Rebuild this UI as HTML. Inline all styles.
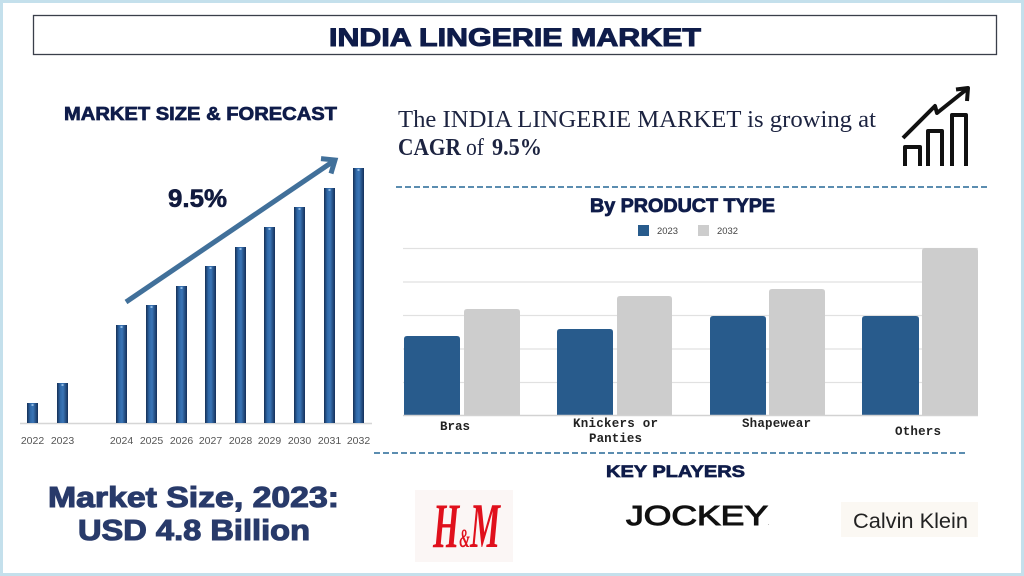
<!DOCTYPE html>
<html>
<head>
<meta charset="utf-8">
<style>
html,body{margin:0;padding:0;background:#fff;}
svg{display:block;}
</style>
</head>
<body>
<svg width="1024" height="576" viewBox="0 0 1024 576" xmlns="http://www.w3.org/2000/svg">
<defs>
<linearGradient id="bg" x1="0" y1="0" x2="1" y2="0">
<stop offset="0" stop-color="#152f55"/>
<stop offset="0.3" stop-color="#2f68a8"/>
<stop offset="0.55" stop-color="#3a75b6"/>
<stop offset="1" stop-color="#14305a"/>
</linearGradient>
</defs>
<rect x="1.5" y="1.5" width="1021" height="573" fill="#ffffff" stroke="#c4e0ec" stroke-width="3"/>

<!-- Title -->
<rect x="33.5" y="15.5" width="963" height="39" fill="none" stroke="#3a3f4a" stroke-width="1.3"/>
<text x="329" y="46" font-family="Liberation Sans, sans-serif" font-weight="bold" font-size="25" fill="#0f1c4a" stroke="#0f1c4a" stroke-width="1" textLength="372" lengthAdjust="spacingAndGlyphs">INDIA LINGERIE MARKET</text>

<!-- Left section -->
<text x="64" y="120" font-family="Liberation Sans, sans-serif" font-weight="bold" font-size="18" fill="#0f1c4a" stroke="#0f1c4a" stroke-width="0.7" textLength="273" lengthAdjust="spacingAndGlyphs">MARKET SIZE &amp; FORECAST</text>
<text x="168" y="207" font-family="Liberation Sans, sans-serif" font-weight="bold" font-size="25" fill="#111a3e" stroke="#111a3e" stroke-width="0.6" textLength="59" lengthAdjust="spacingAndGlyphs">9.5%</text>

<line x1="20" y1="423.5" x2="372" y2="423.5" stroke="#d6d6d6" stroke-width="1.5"/>
<g fill="url(#bg)">
<rect x="27" y="403" width="11" height="20"/>
<rect x="57" y="383" width="11" height="40"/>
<rect x="116" y="325" width="11" height="98"/>
<rect x="146" y="305" width="11" height="118"/>
<rect x="176" y="286" width="11" height="137"/>
<rect x="205" y="266" width="11" height="157"/>
<rect x="235" y="247" width="11" height="176"/>
<rect x="264" y="227" width="11" height="196"/>
<rect x="294" y="207" width="11" height="216"/>
<rect x="324" y="188" width="11" height="235"/>
<rect x="353" y="168" width="11" height="255"/>
</g>
<g fill="#8fb9e2">
<rect x="31.5" y="404" width="2" height="2"/>
<rect x="61.5" y="384" width="2" height="2"/>
<rect x="120.5" y="326" width="2" height="2"/>
<rect x="150.5" y="306" width="2" height="2"/>
<rect x="180.5" y="287" width="2" height="2"/>
<rect x="209.5" y="267" width="2" height="2"/>
<rect x="239.5" y="248" width="2" height="2"/>
<rect x="268.5" y="228" width="2" height="2"/>
<rect x="298.5" y="208" width="2" height="2"/>
<rect x="328.5" y="189" width="2" height="2"/>
<rect x="357.5" y="169" width="2" height="2"/>
</g>
<g font-family="Liberation Sans, sans-serif" font-size="10.5" fill="#555" text-anchor="middle">
<text x="32.5" y="444">2022</text>
<text x="62.5" y="444">2023</text>
<text x="121.5" y="444">2024</text>
<text x="151.5" y="444">2025</text>
<text x="181.5" y="444">2026</text>
<text x="210.5" y="444">2027</text>
<text x="240.5" y="444">2028</text>
<text x="269.5" y="444">2029</text>
<text x="299.5" y="444">2030</text>
<text x="329.5" y="444">2031</text>
<text x="358.5" y="444">2032</text>
</g>
<line x1="126" y1="302" x2="333" y2="161.5" stroke="#41709a" stroke-width="5"/>
<polyline points="321,158.6 335,160 331,173.5" fill="none" stroke="#41709a" stroke-width="5" stroke-linejoin="miter"/>

<text x="48" y="507" font-family="Liberation Sans, sans-serif" font-weight="bold" font-size="29" fill="#283a6a" stroke="#283a6a" stroke-width="1.1" textLength="291" lengthAdjust="spacingAndGlyphs">Market Size, 2023:</text>
<text x="78" y="540" font-family="Liberation Sans, sans-serif" font-weight="bold" font-size="29" fill="#283a6a" stroke="#283a6a" stroke-width="1.1" textLength="232" lengthAdjust="spacingAndGlyphs">USD 4.8 Billion</text>

<!-- Right top text -->
<text x="398" y="127" font-family="Liberation Serif, serif" font-size="24" fill="#1c2340" textLength="478" lengthAdjust="spacingAndGlyphs">The INDIA LINGERIE MARKET is growing at</text>
<text x="398" y="155" font-family="Liberation Serif, serif" font-weight="bold" font-size="24" fill="#1c2340" textLength="63" lengthAdjust="spacingAndGlyphs">CAGR</text>
<text x="466" y="155" font-family="Liberation Serif, serif" font-size="24" fill="#1c2340" textLength="18" lengthAdjust="spacingAndGlyphs">of</text>
<text x="492" y="155" font-family="Liberation Serif, serif" font-weight="bold" font-size="24" fill="#1c2340" textLength="50" lengthAdjust="spacingAndGlyphs">9.5%</text>

<!-- growth icon -->
<g fill="none" stroke="#111" stroke-width="4" stroke-linejoin="round">
<path d="M905,166 V147 H920 V166"/>
<path d="M928,166 V131 H942 V166"/>
<path d="M952,166 V115 H966 V166"/>
<polyline points="903,138 935,106 937,113 967,89"/>
<polyline points="956,89.5 968,88 967,101"/>
</g>

<!-- dashed lines -->
<line x1="396" y1="187" x2="988" y2="187" stroke="#5b8db0" stroke-width="2" stroke-dasharray="6,3"/>
<line x1="374" y1="453" x2="965" y2="453" stroke="#5b8db0" stroke-width="2" stroke-dasharray="6,3"/>

<!-- By product type -->
<text x="590" y="212" font-family="Liberation Sans, sans-serif" font-weight="bold" font-size="19" fill="#0f1c4a" stroke="#0f1c4a" stroke-width="0.8" textLength="185" lengthAdjust="spacingAndGlyphs">By PRODUCT TYPE</text>
<rect x="638" y="225" width="11" height="11" fill="#285b8c"/>
<text x="657" y="234" font-family="Liberation Sans, sans-serif" font-size="9.5" fill="#444" textLength="21" lengthAdjust="spacingAndGlyphs">2023</text>
<rect x="698" y="225" width="11" height="11" fill="#cdcdcd"/>
<text x="717" y="234" font-family="Liberation Sans, sans-serif" font-size="9.5" fill="#444" textLength="21" lengthAdjust="spacingAndGlyphs">2032</text>

<g stroke="#e1e1e1" stroke-width="1.2">
<line x1="403" y1="248.5" x2="978" y2="248.5"/>
<line x1="403" y1="282" x2="978" y2="282"/>
<line x1="403" y1="315.5" x2="978" y2="315.5"/>
<line x1="403" y1="349" x2="978" y2="349"/>
<line x1="403" y1="382.5" x2="978" y2="382.5"/>
</g>
<g fill="#285b8c">
<path d="M404,415 V339 Q404,336 407,336 H457 Q460,336 460,339 V415 Z"/>
<path d="M557,415 V332 Q557,329 560,329 H610 Q613,329 613,332 V415 Z"/>
<path d="M710,415 V319 Q710,316 713,316 H763 Q766,316 766,319 V415 Z"/>
<path d="M862,415 V319 Q862,316 865,316 H916 Q919,316 919,319 V415 Z"/>
</g>
<g fill="#cdcdcd">
<path d="M464,415 V312 Q464,309 467,309 H517 Q520,309 520,312 V415 Z"/>
<path d="M617,415 V299 Q617,296 620,296 H669 Q672,296 672,299 V415 Z"/>
<path d="M769,415 V292 Q769,289 772,289 H822 Q825,289 825,292 V415 Z"/>
<path d="M922,415 V251 Q922,248 925,248 H975 Q978,248 978,251 V415 Z"/>
</g>
<line x1="403" y1="415.5" x2="978" y2="415.5" stroke="#d2d2d2" stroke-width="1.5"/>

<g font-family="Liberation Mono, monospace" font-weight="bold" font-size="12.5" fill="#222" lengthAdjust="spacingAndGlyphs">
<text x="440" y="430" textLength="30">Bras</text>
<text x="573" y="427" textLength="85">Knickers or</text>
<text x="589" y="442" textLength="53">Panties</text>
<text x="742" y="427" textLength="69">Shapewear</text>
<text x="895" y="435" textLength="46">Others</text>
</g>

<!-- Key players -->
<text x="606" y="477" font-family="Liberation Sans, sans-serif" font-weight="bold" font-size="17" fill="#0f1c4a" stroke="#0f1c4a" stroke-width="0.7" textLength="139" lengthAdjust="spacingAndGlyphs">KEY PLAYERS</text>

<rect x="415" y="490" width="98" height="72" fill="#fbf6f5"/>
<text x="433" y="547" font-family="Liberation Serif, serif" font-weight="bold" font-style="italic" fill="#e0101c" textLength="67" lengthAdjust="spacingAndGlyphs"><tspan font-size="64">H</tspan><tspan font-size="26">&amp;</tspan><tspan font-size="64">M</tspan></text>

<text x="626" y="525" font-family="Liberation Sans, sans-serif" font-size="28" fill="#111" stroke="#111" stroke-width="1" textLength="142" lengthAdjust="spacingAndGlyphs">JOCKEY</text>
<text x="768" y="525" font-family="Liberation Sans, sans-serif" font-size="5" fill="#333">.</text>

<rect x="841" y="502" width="137" height="35" fill="#fbf8f3"/>
<text x="853" y="528" font-family="Liberation Sans, sans-serif" font-size="21" fill="#222" textLength="115" lengthAdjust="spacingAndGlyphs">Calvin Klein</text>
</svg>
</body>
</html>
